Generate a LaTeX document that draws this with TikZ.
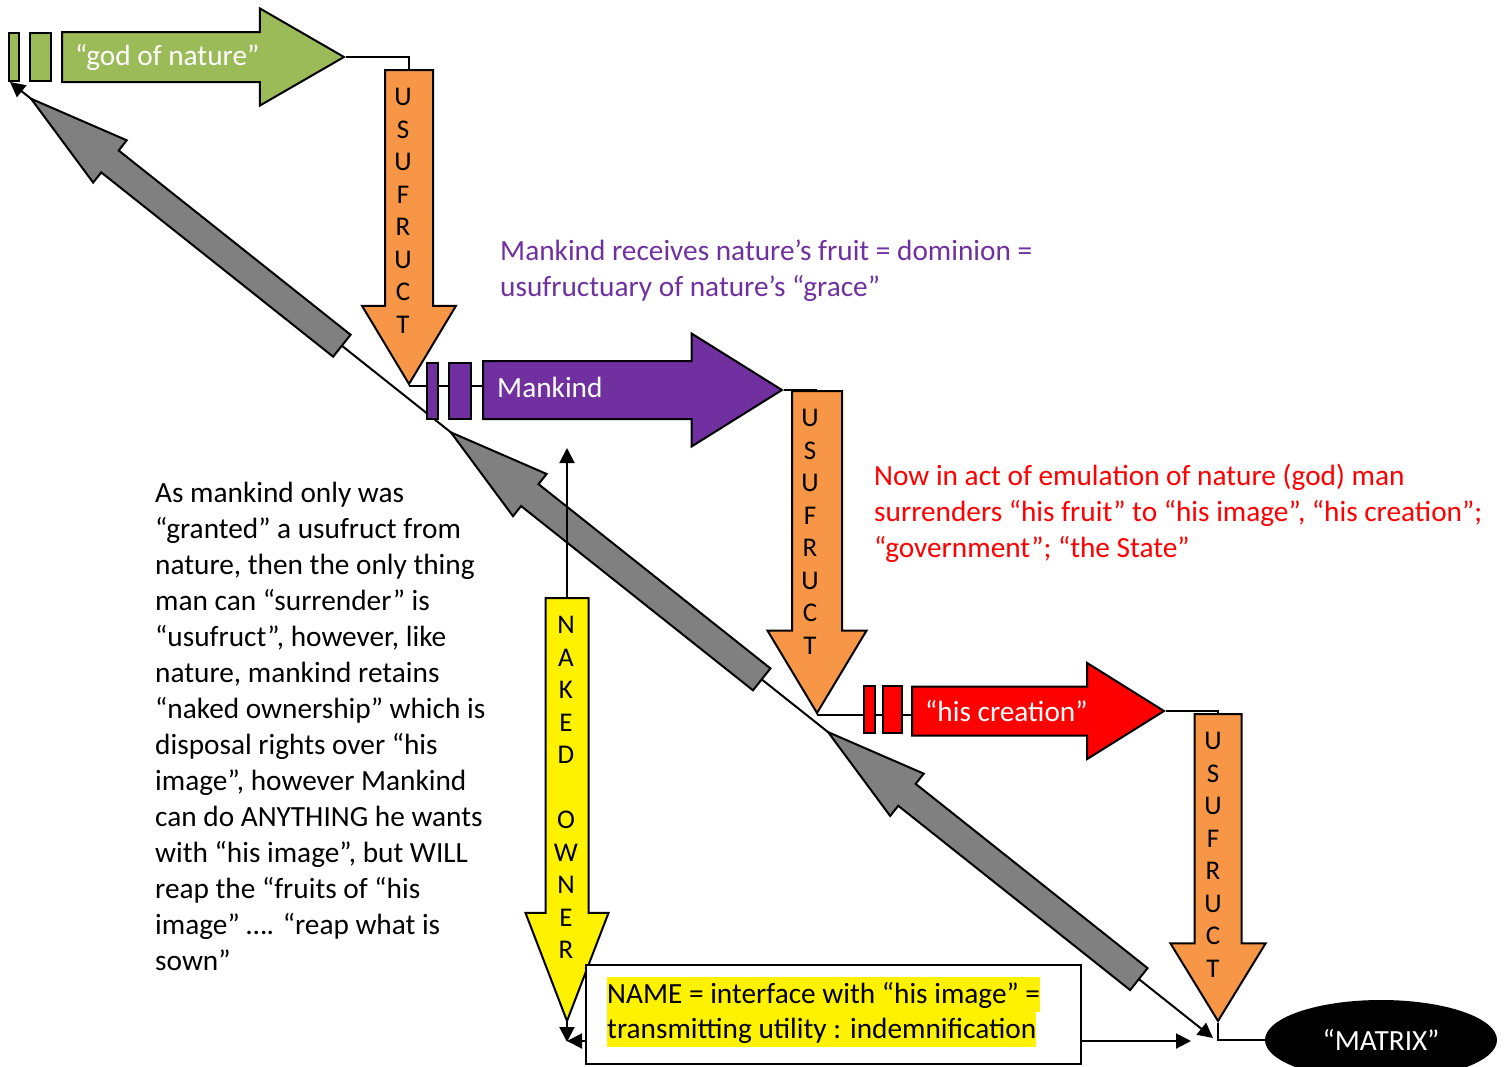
\documentclass[tikz,border=0pt]{standalone}
\usepackage{fontspec}
\setmainfont{Carlito}
\usetikzlibrary{shapes.arrows,shapes.geometric,arrows.meta,calc}

\definecolor{natgreen}{RGB}{155,187,89}
\definecolor{usuorange}{RGB}{247,150,70}
\definecolor{manpurple}{RGB}{112,48,160}

\tikzset{
  blockarrow/.style={single arrow, draw=black, line width=2pt, inner xsep=0pt},
  usuarrow/.style={blockarrow, fill=usuorange, rotate=-90, anchor=tail},
  grayarrow/.style={blockarrow, fill=gray, minimum height=397pt, minimum width=52pt, inner ysep=13pt,
    single arrow head extend=13pt, single arrow tip angle=30, anchor=tip},
  barbox/.style={draw=black, line width=2pt},
  wire/.style={line width=2pt},
  pointer/.style={-{Triangle[length=15pt,width=15pt]}},
  twoway/.style={{Triangle[length=15pt,width=15pt]}-{Triangle[length=15pt,width=15pt]}},
  arrowtext/.style={text=white, anchor=west, inner sep=0pt},
  usuletters/.style={align=center, inner sep=0pt, anchor=north, font=\fontsize{27pt}{32.5pt}\selectfont},
  hilite/.style={fill=yellow, anchor=north west, inner sep=0pt, text height=26pt, text depth=9pt},
}

\begin{document}
\begin{tikzpicture}[x=1pt, y=-1pt, font=\fontsize{29.3pt}{36pt}\selectfont]
\useasboundingbox (0,0) rectangle (1507,1066);

% Ends of the long lines
\coordinate (natcorner) at (10,82);
\coordinate (matcorner) at (1213,1038);
\coordinate (nakedtop) at (567,448);
\coordinate (nakedbottom) at (567,1042);
\pgfmathsetmacro{\diagangle}{atan2(956,-1203)}

% Diagonal line with the gray arrows on it
\draw[wire, twoway] (natcorner) -- (matcorner);
\node[grayarrow, rotate=\diagangle] (grey1) at ($(natcorner)!0.015!(matcorner)$) {};
\node[grayarrow, rotate=\diagangle] (grey2) at ($(natcorner)!0.364!(matcorner)$) {};
\node[grayarrow, rotate=\diagangle] (grey3) at ($(natcorner)!0.6775!(matcorner)$) {};

% Naked ownership line
\draw[wire, twoway] (nakedtop) -- (nakedbottom);

% Draw the block arrows
\node[blockarrow, fill=natgreen, minimum height=282pt, minimum width=95pt, inner ysep=24pt,
  single arrow head extend=23.5pt, single arrow tip angle=60, anchor=tail] (god) at (61,57) {};
\node[usuarrow, minimum height=314pt, minimum width=92pt, inner ysep=23pt,
  single arrow head extend=23pt, single arrow tip angle=62] (usu1) at (409,69) {};
\node[blockarrow, fill=manpurple, minimum height=299pt, minimum width=111pt, inner ysep=28pt,
  single arrow head extend=27.5pt, single arrow tip angle=64, anchor=tail] (mankind) at (482,390) {};
\node[usuarrow, minimum height=322pt, minimum width=97pt, inner ysep=24pt,
  single arrow head extend=24.5pt, single arrow tip angle=62] (usu2) at (817,390) {};
\node[blockarrow, fill=red, minimum height=252pt, minimum width=94pt, inner ysep=23.5pt,
  single arrow head extend=23.5pt, single arrow tip angle=64, anchor=tail] (creation) at (911,711) {};
\node[usuarrow, minimum height=307pt, minimum width=93pt, inner ysep=22.5pt,
  single arrow head extend=24pt, single arrow tip angle=63] (usu3) at (1218,713) {};
\node[blockarrow, fill=yellow, rotate=-90, anchor=tail, minimum height=423pt, minimum width=81pt,
  inner ysep=20.5pt, single arrow head extend=20pt, single arrow tip angle=42] (naked) at (567,597) {};

% Matrix
\node[ellipse, fill=black, text=white, minimum width=232pt, minimum height=80pt, inner sep=0pt] (matrix) at (1381,1040) {“MATRIX”\hspace{14pt}};

% Connectors between the arrows
\draw[wire] (god.tip) -| (usu1.tail);
\draw[wire] (usu1.tip) -- (usu1.tip -| mankind.tail);
\draw[wire] (mankind.tip) -| (usu2.tail);
\draw[wire] (usu2.tip) -- (usu2.tip -| creation.tail);
\draw[wire] (creation.tip) -| (usu3.tail);
\draw[wire] (usu3.tip) |- (matrix.west);

% Bars in front of the arrows
\draw[barbox, fill=natgreen] (9,33) rectangle (19,81);
\draw[barbox, fill=natgreen] (30,33) rectangle (51,81);
\draw[barbox, fill=manpurple] (427,363) rectangle (438,419);
\draw[barbox, fill=manpurple] (449,363) rectangle (471,419);
\draw[barbox, fill=red] (864,686) rectangle (875,733);
\draw[barbox, fill=red] (883,686) rectangle (902,733);

% Texts in the arrows
\node[arrowtext] (godtext) at ($(god.tail)+(14,0)$) {“god of nature”};
\node[arrowtext] (mankindtext) at ($(mankind.tail)+(15,-3)$) {Mankind};
\node[arrowtext] (creationtext) at ($(creation.tail)+(14,0)$) {“his creation”};
\node[usuletters] (usu1text) at ($(usu1.tail)+(-6,19)$) {U\\S\\U\\F\\R\\U\\C\\T};
\node[usuletters] (usu2text) at ($(usu2.tail)+(-7,19)$) {U\\S\\U\\F\\R\\U\\C\\T};
\node[usuletters] (usu3text) at ($(usu3.tail)+(-5,19)$) {U\\S\\U\\F\\R\\U\\C\\T};
\node[usuletters] (nakedtext) at ($(naked.tail)+(-1,19)$) {N\\A\\K\\E\\D\\[32.5pt]O\\W\\N\\E\\R};

% Name box
\node[draw, fill=white, line width=2pt, minimum width=495pt, minimum height=99pt, inner sep=0pt] (namebox) at (833.5,1014.5) {};
\node[hilite] (name1) at (607,977) {NAME = interface with “his image” =};
\node[hilite] (name2) at (607,1012) {transmitting utility : indemnification};
\draw[wire, pointer] ([yshift=24pt]namebox.south west) -- ++(-18,0);
\draw[wire, pointer] ([yshift=24pt]namebox.south east) -- ++(109,0);

% Comments
\node[text=manpurple, anchor=north west, align=left, inner sep=0pt] (dominion) at (500,240)
  {Mankind receives nature’s fruit = dominion =\\usufructuary of nature’s “grace”};
\node[text=red, anchor=north west, align=left, inner sep=0pt] (emulation) at (874,464)
  {Now in act of emulation of nature (god) man\\surrenders “his fruit” to “his image”, “his creation”;\\“government”; “the State”};
\node[anchor=north west, align=left, inner sep=0pt] (note) at (155,482)
  {As mankind only was\\“granted” a usufruct from\\nature, then the only thing\\man can “surrender” is\\“usufruct”, however, like\\nature, mankind retains\\“naked ownership” which is\\disposal rights over “his\\image”, however Mankind\\can do ANYTHING he wants\\with “his image”, but WILL\\reap the “fruits of “his\\image” …. “reap what is\\sown”};

\end{tikzpicture}
\end{document}
